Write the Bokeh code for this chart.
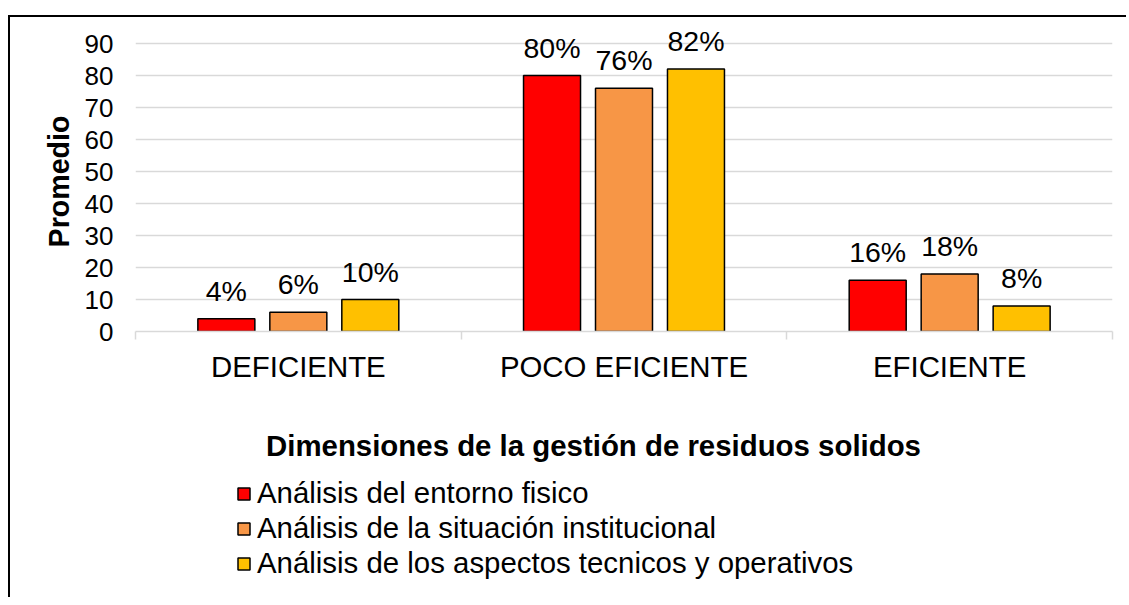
from bokeh.plotting import figure
from bokeh.layouts import column
from bokeh.models import Range1d, FixedTicker, ColumnDataSource, LabelSet, Legend, LegendItem, Label
from bokeh.transform import dodge
from bokeh.core.properties import value
from bokeh.embed import file_html
from bokeh.resources import INLINE

categories = ["DEFICIENTE", "POCO EFICIENTE", "EFICIENTE"]
series_names = [
    "Análisis del entorno fisico",
    "Análisis de la situación institucional",
    "Análisis de los aspectos tecnicos y operativos",
]
entorno = [4, 80, 16]
institucional = [6, 76, 18]
tecnicos = [10, 82, 8]
y_ticks = [0, 10, 20, 30, 40, 50, 60, 70, 80, 90]
colors = ["#FF0000", "#F79646", "#FFC000"]
x_title = "Dimensiones de la gestión de residuos solidos"
y_title = "Promedio"

FONT = "Liberation Sans"
BIG = "29.4px"

# ---------- main chart ----------
p = figure(width=1116, height=374, x_range=Range1d(0, 3), y_range=Range1d(0, 93.75),
           output_backend="svg", toolbar_location=None,
           min_border_left=125, min_border_top=14, min_border_right=14, min_border_bottom=60)
p.outline_line_color = None
p.background_fill_color = "white"
p.border_fill_color = "white"

centers = [i + 0.5 for i in range(len(categories))]
offsets = [-0.221, 0.0, 0.221]
sources = []
for vals, col, off in zip([entorno, institucional, tecnicos], colors, offsets):
    src = ColumnDataSource(dict(x=centers, y=vals, lab=[f"{v}%" for v in vals]))
    sources.append(src)
    p.vbar(x=dodge("x", off), top="y", bottom=0, width=0.175, source=src,
           fill_color=col, line_color="black", line_width=1.5)
    p.add_layout(LabelSet(x=dodge("x", off), y="y", text="lab", source=src, text_align="center",
                          text_baseline="alphabetic", y_offset=18, text_font=value(FONT),
                          text_font_size="28.5px", text_color="black"))

p.xaxis.ticker = FixedTicker(ticks=centers, minor_ticks=[0, 1, 2, 3])
p.xaxis.major_label_overrides = {c: n for c, n in zip(centers, categories)}
p.xaxis.major_tick_line_color = None
p.xaxis.major_tick_out = 0
p.xaxis.major_tick_in = 0
p.xaxis.minor_tick_line_color = "#d9d9d9"
p.xaxis.minor_tick_line_width = 1.5
p.xaxis.minor_tick_out = 8
p.xaxis.minor_tick_in = 0
p.xaxis.axis_line_color = "#d9d9d9"
p.xaxis.axis_line_width = 1.5
p.xaxis.major_label_text_font = FONT
p.xaxis.major_label_text_font_size = BIG
p.xaxis.major_label_text_color = "black"
p.xaxis.major_label_standoff = 10

p.yaxis.ticker = FixedTicker(ticks=y_ticks)
p.yaxis.axis_line_color = None
p.yaxis.major_tick_line_color = None
p.yaxis.minor_tick_line_color = None
p.yaxis.major_tick_out = 0
p.yaxis.major_tick_in = 0
p.yaxis.major_label_text_font = FONT
p.yaxis.major_label_text_font_size = "26px"
p.yaxis.major_label_text_color = "black"
p.yaxis.major_label_standoff = 22
p.yaxis.axis_label = y_title
p.yaxis.axis_label_text_font = FONT
p.yaxis.axis_label_text_font_size = "28.6px"
p.yaxis.axis_label_text_font_style = "bold"
p.yaxis.axis_label_text_color = "black"
p.yaxis.axis_label_standoff = 7

p.xgrid.grid_line_color = None
p.ygrid.grid_line_color = "#d9d9d9"
p.ygrid.grid_line_width = 1.5

# ---------- title + legend area ----------
q = figure(width=1116, height=206, x_range=Range1d(0, 1), y_range=Range1d(0, 1),
           x_axis_type=None, y_axis_type=None, output_backend="svg", toolbar_location=None,
           min_border=0)
q.outline_line_color = None
q.background_fill_color = "white"
q.border_fill_color = "white"

items = []
for name, col, src in zip(series_names, colors, sources):
    r = q.vbar(x="x", top="y", width=0.1, source=src, fill_color=col,
               line_color="black", line_width=1.5, visible=False)
    items.append(LegendItem(label=name, renderers=[r]))

q.add_layout(Label(x=458, y=152, x_units="screen", y_units="screen", text=x_title,
                   text_align="center", text_baseline="alphabetic", text_font=FONT,
                   text_font_size=BIG, text_font_style="bold", text_color="black"))

legend = Legend(items=items, location=(101, 17), orientation="vertical",
                border_line_color=None, background_fill_alpha=0, padding=0, margin=0,
                spacing=1, glyph_width=15, glyph_height=15, label_standoff=6,
                inactive_fill_alpha=0,
                label_text_font=FONT, label_text_font_size=BIG, label_text_color="black")
q.add_layout(legend, "center")

layout = column(p, q, spacing=0)
layout.styles = {"border-top": "2px solid #000000", "border-left": "2px solid #000000"}
layout.margin = (15, 0, 0, 8)

open("out.html", "w").write(file_html(layout, INLINE))
